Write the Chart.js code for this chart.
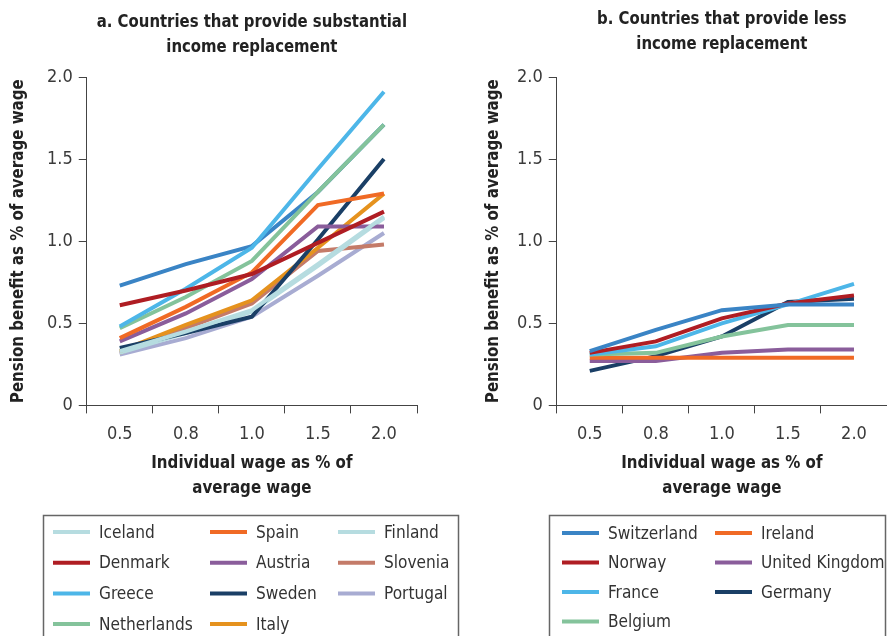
<!DOCTYPE html>
<html>
<head>
<meta charset="utf-8">
<script src="https://cdn.jsdelivr.net/npm/chart.js@4.4.1/dist/chart.umd.min.js"></script>
<style>
  body { margin: 0; background: #fff; }
  #wrap { position: relative; width: 887px; height: 636px; overflow: hidden; }
  canvas { position: absolute; top: 0; }
</style>
</head>
<body>
<div id="wrap">
  <canvas id="leftChart" width="470" height="636" style="left:0"></canvas>
  <canvas id="rightChart" width="417" height="636" style="left:470px"></canvas>
</div>
<script>
// x categories: individual wage as multiple of average wage
const wageLevels = ['0.5', '0.8', '1.0', '1.5', '2.0'];

// panel a
const iceland     = [0.33, 0.45, 0.58, 0.86, 1.15];
const denmark     = [0.61, 0.70, 0.80, 0.99, 1.18];
const greece      = [0.48, 0.71, 0.96, 1.44, 1.91];
const netherlands = [0.47, 0.66, 0.88, 1.30, 1.71];
const spain       = [0.41, 0.60, 0.81, 1.22, 1.29];
const austria     = [0.39, 0.56, 0.77, 1.09, 1.09];
const sweden      = [0.35, 0.44, 0.54, 1.01, 1.50];
const italy       = [0.33, 0.49, 0.64, 0.96, 1.29];
const finland     = [0.32, 0.44, 0.57, 0.85, 1.14];
const slovenia    = [0.32, 0.47, 0.62, 0.94, 0.98];
const portugal    = [0.31, 0.41, 0.54, 0.79, 1.05];
const unlabelled  = [0.73, 0.86, 0.97, 1.30, 1.71]; // blue line with no legend entry

// panel b
const switzerland = [0.33, 0.46, 0.58, 0.615, 0.615];
const norway      = [0.32, 0.39, 0.53, 0.62, 0.67];
const france      = [0.31, 0.36, 0.50, 0.615, 0.74];
const belgium     = [0.31, 0.32, 0.42, 0.49, 0.49];
const ireland     = [0.29, 0.29, 0.29, 0.29, 0.29];
const uk          = [0.27, 0.27, 0.32, 0.34, 0.34];
const germany     = [0.21, 0.30, 0.42, 0.63, 0.65];

const yTitle = 'Pension benefit as % of average wage';
const xTitle = ['Individual wage as % of', 'average wage'];

const C = {
  midBlue: '#3A84C5', lightBlue: '#4DB6E8', green: '#84C39B', navy: '#1A3F66',
  orange: '#F06A25', gold: '#E5921E', red: '#AF1D23', cyan: '#B6DCE0',
  purple: '#8A5D9B', salmon: '#C47B69', lavender: '#A8ACD2'
};

const FONT = '"DejaVu Sans Condensed", "Roboto", sans-serif';

function line(label, data, color) {
  return { label: label, data: data, borderColor: color, backgroundColor: color,
           borderWidth: 4, pointRadius: 0, tension: 0, fill: false };
}

// squeeze text a little to get closer to the condensed face of the original
function squeezed(ctx, text, x, y, sx) {
  ctx.save();
  ctx.translate(x, y);
  ctx.scale(sx, 1);
  ctx.fillText(text, 0, 0);
  ctx.restore();
}

const panelDecor = {
  id: 'panelDecor',
  afterDraw(chart, args, opts) {
    const ctx = chart.ctx;
    const ca = chart.chartArea;
    const cx = (ca.left + ca.right) / 2;
    ctx.save();
    ctx.fillStyle = '#222';
    ctx.textAlign = 'center';
    ctx.textBaseline = 'middle';
    ctx.font = 'bold 18px ' + FONT;
    opts.title.forEach((t, i) => squeezed(ctx, t, cx, opts.titleY + i * 25, 0.92));
    xTitle.forEach((t, i) => squeezed(ctx, t, cx, 463 + i * 25, 0.93));
    ctx.save();
    ctx.translate(opts.yTitleX, (ca.top + ca.bottom) / 2);
    ctx.rotate(-Math.PI / 2);
    squeezed(ctx, yTitle, 0, 0, 0.93);
    ctx.restore();

    const L = opts.legend;
    ctx.strokeStyle = '#666';
    ctx.lineWidth = 1.5;
    ctx.strokeRect(L.x, L.y, L.w, L.h);
    ctx.font = '18px ' + FONT;
    ctx.textAlign = 'left';
    chart.data.datasets.filter(d => d.label !== '').forEach((d, i) => {
      const x = L.cols[Math.floor(i / L.rows)];
      const y = L.y0 + (i % L.rows) * L.dy;
      ctx.strokeStyle = d.borderColor;
      ctx.lineWidth = 4;
      ctx.beginPath();
      ctx.moveTo(x, y);
      ctx.lineTo(x + 37, y);
      ctx.stroke();
      ctx.fillStyle = '#333';
      squeezed(ctx, d.label, x + 46, y + 1, 0.95);
    });
    ctx.restore();
  }
};

function makeChart(id, datasets, decor, pad) {
  return new Chart(document.getElementById(id), {
    type: 'line',
    data: { labels: wageLevels, datasets: datasets },
    plugins: [panelDecor],
    options: {
      responsive: false,
      animation: false,
      layout: { padding: pad },
      plugins: {
        legend: { display: false },
        tooltip: { enabled: false },
        panelDecor: decor
      },
      scales: {
        x: {
          offset: true,
          grid: { offset: true, drawOnChartArea: false, color: '#444', tickLength: 8 },
          border: { color: '#444' },
          ticks: { color: '#3a3a3a', padding: 10, font: { family: FONT, size: 18 } }
        },
        y: {
          min: 0, max: 2,
          grid: { drawOnChartArea: false, color: '#444', tickLength: 8 },
          border: { color: '#444' },
          ticks: {
            stepSize: 0.5, color: '#3a3a3a', padding: 6,
            font: { family: FONT, size: 18 },
            callback: v => v === 0 ? '0' : v.toFixed(1)
          }
        }
      }
    }
  });
}

makeChart('leftChart', [
  line('Iceland', iceland, C.cyan),
  line('Denmark', denmark, C.red),
  line('Greece', greece, C.lightBlue),
  line('Netherlands', netherlands, C.green),
  line('Spain', spain, C.orange),
  line('Austria', austria, C.purple),
  line('Sweden', sweden, C.navy),
  line('Italy', italy, C.gold),
  line('Finland', finland, C.cyan),
  line('Slovenia', slovenia, C.salmon),
  line('Portugal', portugal, C.lavender),
  line('', unlabelled, C.midBlue)
], {
  title: ['a. Countries that provide substantial', 'income replacement'],
  titleY: 22,
  yTitleX: 18,
  legend: { x: 43.5, y: 515.5, w: 415, h: 140, cols: [53, 210, 338], rows: 4, y0: 532, dy: 30.7 }
}, { left: 41, top: 77, right: 53, bottom: 181 });

makeChart('rightChart', [
  line('Switzerland', switzerland, C.midBlue),
  line('Norway', norway, C.red),
  line('France', france, C.lightBlue),
  line('Belgium', belgium, C.green),
  line('Ireland', ireland, C.orange),
  line('United Kingdom', uk, C.purple),
  line('Germany', germany, C.navy)
], {
  title: ['b. Countries that provide less', 'income replacement'],
  titleY: 19,
  yTitleX: 23,
  legend: { x: 79.5, y: 515.5, w: 336, h: 140, cols: [92, 245], rows: 4, y0: 533, dy: 29.5 }
}, { left: 41, top: 77, right: 0, bottom: 181 });
</script>
</body>
</html>
